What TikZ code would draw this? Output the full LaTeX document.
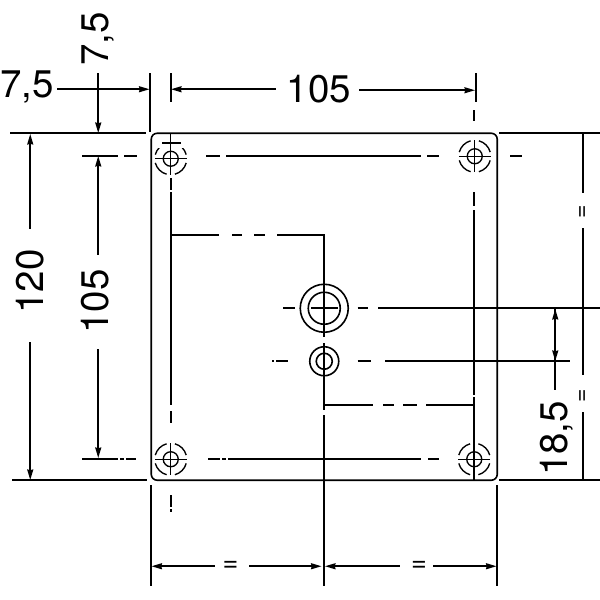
\documentclass[tikz,border=0pt]{standalone}
\usepackage{fontspec}
\setmainfont{TeX Gyre Heros}
\usetikzlibrary{arrows.meta,calc}
\tikzset{
  ln/.style={line width=1.6pt,line cap=butt},
  thin ln/.style={line width=1.35pt},
  dim/.style={line width=1.6pt},
  tipe/.style={-{Stealth[length=10.5pt,width=6pt,inset=0.8pt]}},
  tips/.style={{Stealth[length=10.5pt,width=6pt,inset=0.8pt]}-},
  big/.style={font=\fontsize{38.5}{38.5}\selectfont,inner sep=0pt,anchor=base},
  eqb/.style={font=\fontsize{27}{27}\selectfont,inner sep=0pt},
  eqr/.style={font=\fontsize{23}{23}\selectfont,inner sep=0pt,rotate=90},
}
\newcommand{\arcsring}[3]{%
  \foreach \a in {#3}{\draw[thin ln] ($(#1,#2)+(\a+15:16)$) arc[start angle=\a+15,end angle=\a+75,radius=16];}%
}
\begin{document}
\begin{tikzpicture}[x=1pt,y=-1pt]
\useasboundingbox (0,0) rectangle (600,600);
\fill[white] (0,0) rectangle (600,600);
% plate
\draw[ln,rounded corners=6pt] (151.25,133.25) rectangle (497.25,480.25);
% extension lines
\draw[ln] (150.25,73)--(150.25,132) (170.75,73)--(170.75,102) (475.75,73)--(475.75,102);
\draw[ln] (10,133.25)--(146,133.25) (499,133.25)--(600,133.25);
\draw[ln] (12,480.25)--(147,480.25) (499,480.25)--(600,480.25);
\draw[ln] (151.25,485)--(151.25,586) (497.25,485)--(497.25,586) (324.25,415)--(324.25,586);
% upper hole axis
\draw[ln] (82,155.75)--(118,155.75) (124,155.75)--(137,155.75) (206,155.75)--(220,155.75) (226,155.75)--(421,155.75) (427,155.75)--(439,155.75) (510,155.75)--(522,155.75);
% lower hole axis
\draw[ln] (82,459.25)--(118,459.25) (120,459.25)--(124,459.25) (126,459.25)--(136,459.25) (208,459.25)--(220,459.25) (222,459.25)--(226,459.25) (228,459.25)--(421,459.25) (428,459.25)--(439,459.25);
% left vertical axis
\draw[ln] (170.75,178)--(170.75,190) (170.75,192)--(170.75,405) (170.75,411)--(170.75,423) (170.75,495)--(170.75,507) (170.75,509)--(170.75,512);
% right vertical axis
\draw[ln] (474.25,110)--(474.25,121) (474.25,192)--(474.25,206) (474.25,210)--(474.25,395) (474.25,397)--(474.25,480.25);
% connecting lines
\draw[ln] (170.75,235.25)--(219,235.25) (232,235.25)--(242,235.25) (254,235.25)--(265,235.25) (277,235.25)--(324.25,235.25)--(324.25,337) (324.25,343)--(324.25,410);
\draw[ln] (324.25,405.25)--(373,405.25) (383,405.25)--(394,405.25) (403,405.25)--(417,405.25) (426,405.25)--(474,405.25);
% centre axes
\draw[ln] (283,308.25)--(295,308.25) (357.5,308.25)--(368,308.25) (378,308.25)--(600,308.25);
\draw[ln] (272,361.25)--(274,361.25) (276,361.25)--(288,361.25) (357.5,361.25)--(371,361.25) (385,361.25)--(570,361.25);
% centre holes
\draw[ln] (324.25,308.25) circle[radius=24] (324.25,308.25) circle[radius=16];
\draw[ln] (311,308.25)--(338,308.25);
\draw[ln] (324.25,361.25) circle[radius=14.5] (324.25,361.25) circle[radius=8];
% screw holes
\foreach \cx/\cy in {170.75/158.75,474.75/156.25,170.75/459.25,474.25/459.25}{
  \draw[thin ln] (\cx,\cy) circle[radius=7.5];
  \draw[thin ln] (\cx-16,\cy)--(\cx+16,\cy) (\cx,\cy-16)--(\cx,\cy+16);
}
\arcsring{170.75}{158.75}{0,90,180,270}
\arcsring{474.75}{156.25}{0,90,180,270}
\arcsring{170.75}{459.25}{0,90,180,270}
\arcsring{474.25}{459.25}{0,90,180,270}
\fill[white] (154,135) rectangle (187,147.5);
\draw[thin ln] (170.75,134)--(170.75,150);
\draw[ln] (162,143.25)--(181,143.25);
% dimension lines
\draw[dim,tipe] (57,89.25)--(149.5,89.25);
\draw[dim,tipe] (98.25,73)--(98.25,133);
\draw[dim,tips] (171,89.25)--(276,89.25);
\draw[dim,tipe] (359,90.25)--(475,90.25);
\draw[dim,tips] (30.25,134)--(30.25,229);
\draw[dim,tipe] (30.25,342)--(30.25,480);
\draw[dim,tips] (98.25,156)--(98.25,255);
\draw[dim,tipe] (98.25,349)--(98.25,458);
\draw[dim,tips] (555.25,309)--(555.25,361);
\draw[dim,tipe] (555.25,309)--(555.25,361);
\draw[dim] (555.25,361)--(555.25,390);
\draw[dim,tips] (151.5,566.25)--(215,566.25);
\draw[dim,tipe] (249,566.25)--(321.5,566.25);
\draw[dim,tips] (325,566.25)--(400,566.25);
\draw[dim,tipe] (433,566.25)--(496.5,566.25);
\draw[ln] (583.25,133.25)--(583.25,193) (583.25,228)--(583.25,375) (583.25,412)--(583.25,480.25);
% texts
\node[big] (t75h) at (27,97) {7,5};
\node[big] (t75v) at (108,39) [rotate=90] {7,5};
\node[big] (t105h) at (319,102) {105};
\node[big] (t120) at (43,281.5) [rotate=90] {120};
\node[big] (t105v) at (108,301.5) [rotate=90] {105};
\node[big] (t185) at (567,438.5) [rotate=90] {18,5};
\node[eqb] (e1) at (230.5,566) {=};
\node[eqb] (e2) at (419,566) {=};
\node[eqr] (e3) at (583.5,212) {=};
\node[eqr] (e4) at (583.5,396) {=};
\end{tikzpicture}
\end{document}
